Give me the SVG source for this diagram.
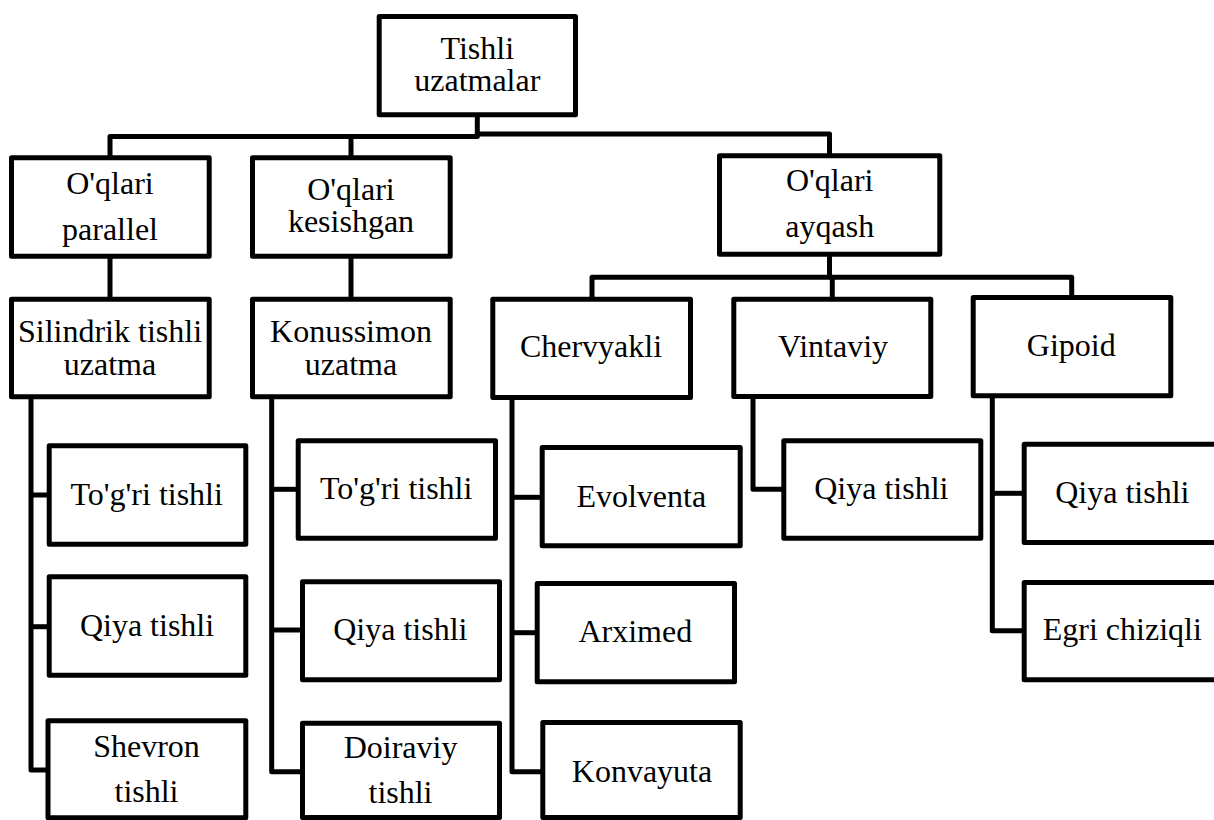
<svg xmlns="http://www.w3.org/2000/svg" width="1214" height="820" viewBox="0 0 1214 820" font-family="Liberation Serif, Times New Roman, serif">
<style>
.box{fill:#fff;stroke:#000;stroke-width:5;stroke-linejoin:round}
.t{font-size:32px;fill:#000;text-anchor:middle}
.c{fill:none;stroke:#000;stroke-width:5;stroke-linejoin:round}
</style>
<rect width="1214" height="820" fill="#fff"/>
<g id="connectors">
<path class="c" d="M110,158 V136.5 H477.3 V116"/>
<path class="c" d="M351,136.5 V158"/>
<path class="c" d="M477.3,134 H829.5 V156"/>
<path class="c" d="M110,257 V299"/>
<path class="c" d="M351,257 V299"/>
<path class="c" d="M829.5,255 V277.3"/>
<path class="c" d="M592,299 V277.3 H1071.7 V297.5"/>
<path class="c" d="M832.3,277.3 V299"/>
<path class="c" d="M31,398 V770 H48"/>
<path class="c" d="M31,495 H49"/>
<path class="c" d="M31,626.7 H49"/>
<path class="c" d="M271.7,398 V771.7 H302"/>
<path class="c" d="M271.7,489.3 H298"/>
<path class="c" d="M271.7,630 H302"/>
<path class="c" d="M512,398 V771.7 H542"/>
<path class="c" d="M512,497.3 H542"/>
<path class="c" d="M512,632.7 H537"/>
<path class="c" d="M753,398 V489.3 H783"/>
<path class="c" d="M992.3,397 V630.7 H1024"/>
<path class="c" d="M992.3,493.3 H1024"/>
</g>
<g id="n-root"><rect class="box" x="379.2" y="16.5" width="196.3" height="98.3"/><text class="t" font-family="Liberation Serif" x="477.3" y="59.3">Tishli</text><text class="t" font-family="Liberation Serif" x="477.3" y="90.7">uzatmalar</text></g>
<g id="n-parallel"><rect class="box" x="11.5" y="157.8" width="197.7" height="98.4"/><text class="t" x="110" y="194">O'qlari</text><text class="t" x="110" y="240">parallel</text></g>
<g id="n-kesishgan"><rect class="box" x="252.5" y="157.8" width="197.7" height="98.4"/><text class="t" x="351" y="200">O'qlari</text><text class="t" x="351" y="232">kesishgan</text></g>
<g id="n-ayqash"><rect class="box" x="719.5" y="155.8" width="220.3" height="98.4"/><text class="t" x="829.7" y="190.7">O'qlari</text><text class="t" x="829.7" y="237.3">ayqash</text></g>
<g id="n-silindrik"><rect class="box" x="11.5" y="299.2" width="197.7" height="97.6"/><text class="t" x="110" y="341.7">Silindrik tishli</text><text class="t" x="110" y="375">uzatma</text></g>
<g id="n-konussimon"><rect class="box" x="252.5" y="299.2" width="197.7" height="97.6"/><text class="t" x="351" y="341.7">Konussimon</text><text class="t" x="351" y="375">uzatma</text></g>
<g id="n-chervyakli"><rect class="box" x="492.8" y="299.2" width="197.7" height="98.3"/><text class="t" x="591" y="357.3">Chervyakli</text></g>
<g id="n-vintaviy"><rect class="box" x="733.8" y="299.2" width="197" height="97.3"/><text class="t" x="833" y="356.7">Vintaviy</text></g>
<g id="n-gipoid"><rect class="box" x="973.2" y="297.5" width="197.6" height="98.3"/><text class="t" x="1071.3" y="356">Gipoid</text></g>
<g id="n-s-togri"><rect class="box" x="49.2" y="445.8" width="196.6" height="98.4"/><text class="t" x="146.7" y="505">To'g'ri tishli</text></g>
<g id="n-s-qiya"><rect class="box" x="49.2" y="576.8" width="196.6" height="98.4"/><text class="t" x="147" y="636">Qiya tishli</text></g>
<g id="n-s-shevron"><rect class="box" x="48" y="720.8" width="197.8" height="97"/><text class="t" x="146.5" y="756.7">Shevron</text><text class="t" x="146.5" y="801.7">tishli</text></g>
<g id="n-k-togri"><rect class="box" x="298.2" y="440.8" width="197.3" height="97.4"/><text class="t" x="396.2" y="499.3">To'g'ri tishli</text></g>
<g id="n-k-qiya"><rect class="box" x="302.5" y="581.8" width="197" height="98"/><text class="t" x="400.3" y="640">Qiya tishli</text></g>
<g id="n-k-doiraviy"><rect class="box" x="302.5" y="723.2" width="197" height="94.3"/><text class="t" x="400.5" y="758.3">Doiraviy</text><text class="t" x="400.5" y="803.3">tishli</text></g>
<g id="n-evolventa"><rect class="box" x="542.2" y="447.5" width="198" height="98.3"/><text class="t" x="641.3" y="507.3">Evolventa</text></g>
<g id="n-arximed"><rect class="box" x="537.2" y="583.5" width="197.3" height="98.3"/><text class="t" x="635.3" y="642.3">Arximed</text></g>
<g id="n-konvayuta"><rect class="box" x="542.8" y="722.5" width="197.4" height="95"/><text class="t" x="642" y="781.7">Konvayuta</text></g>
<g id="n-v-qiya"><rect class="box" x="783.8" y="440.8" width="197" height="97.4"/><text class="t" x="881.3" y="499.3">Qiya tishli</text></g>
<g id="n-g-qiya"><rect class="box" x="1024.2" y="444.2" width="198" height="98.3"/><text class="t" x="1122.3" y="503.3">Qiya tishli</text></g>
<g id="n-g-egri"><rect class="box" x="1024.2" y="582.5" width="198" height="97.3"/><text class="t" x="1122.3" y="640">Egri chiziqli</text></g>
</svg>
